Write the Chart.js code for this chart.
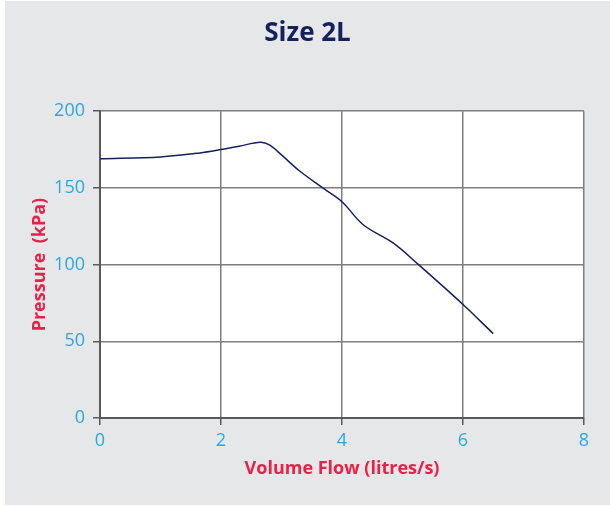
<!DOCTYPE html>
<html lang="en">
    <head>
        <meta charset="utf-8" />
        <title>Size 2L</title>
        <script src="https://cdnjs.cloudflare.com/ajax/libs/Chart.js/4.4.0/chart.umd.js"></script>
        <style>
            body {
                margin: 0;
                background: #ffffff;
            }
            #panel {
                position: absolute;
                left: 5px;
                top: 1px;
                width: 605px;
                height: 504px;
                background: #e6e7e9;
            }
        </style>
    </head>
    <body>
        <div id="panel">
            <canvas id="canvas" width="605" height="504"></canvas>
        </div>
        <script>
            // flow in litres/s, pressure in kPa
            const flow = [0, 1, 1.65, 2, 2.3, 2.65, 2.8, 3.0, 3.3, 3.7, 4.0, 4.35, 4.85, 5.25, 6.0, 6.5];
            const pressure = [169, 170.2, 172.8, 175, 177.2, 179.7, 178, 171.5, 161, 149.5, 141, 126, 114, 100.5, 74, 55];
            const xTicks = [0, 2, 4, 6, 8];
            const yTicks = [0, 50, 100, 150, 200];

            const blue = '#29a8e0';
            const red = '#ec1f48';
            const gridCol = '#7f7f7f';
            const axisCol = '#5a5a5a';

            const points = flow.map((f, i) => ({ x: f, y: pressure[i] }));

            // white plot background
            const plotBg = {
                id: 'plotBg',
                beforeDraw(chart) {
                    const a = chart.chartArea;
                    const ctx = chart.ctx;
                    ctx.save();
                    ctx.fillStyle = '#ffffff';
                    ctx.fillRect(a.left, a.top, a.right - a.left, a.bottom - a.top);
                    ctx.restore();
                }
            };

            new Chart('canvas', {
                type: 'line',
                data: {
                    datasets: [{
                        label: 'Size 2L',
                        data: points,
                        borderColor: '#14215e',
                        borderWidth: 1.5,
                        pointRadius: 0,
                        tension: 0.35,
                        fill: false
                    }]
                },
                options: {
                    responsive: false,
                    animation: false,
                    layout: { padding: 0 },
                    plugins: {
                        legend: { display: false },
                        tooltip: { enabled: false },
                        title: {
                            display: true,
                            text: 'Size 2L',
                            color: '#14215a',
                            font: { family: 'Open Sans', size: 26, weight: 'bold' },
                            padding: { top: 17, bottom: 62 }
                        }
                    },
                    scales: {
                        x: {
                            type: 'linear',
                            min: 0,
                            max: 8,
                            afterBuildTicks: s => { s.ticks = xTicks.map(v => ({ value: v })); },
                            afterFit: s => { s.height = 87; },
                            ticks: {
                                color: blue,
                                font: { family: 'Open Sans', size: 18 },
                                padding: 5
                            },
                            grid: { color: gridCol, lineWidth: 1.5, tickLength: 7, tickColor: axisCol },
                            border: { color: axisCol, width: 2 },
                            title: {
                                display: true,
                                text: 'Volume Flow (litres/s)',
                                color: red,
                                font: { family: 'Open Sans', size: 18, weight: 'bold' },
                                padding: { top: 0, bottom: 25 }
                            }
                        },
                        y: {
                            min: 0,
                            max: 200,
                            afterBuildTicks: s => { s.ticks = yTicks.map(v => ({ value: v })); },
                            afterFit: s => { s.width = 95; },
                            ticks: {
                                color: blue,
                                font: { family: 'Open Sans', size: 18 },
                                padding: 8
                            },
                            grid: { color: gridCol, lineWidth: 1.5, tickLength: 7, tickColor: axisCol },
                            border: { color: axisCol, width: 2 },
                            title: {
                                display: true,
                                text: 'Pressure  (kPa)',
                                color: red,
                                font: { family: 'Open Sans', size: 18, weight: 'bold' },
                                padding: { top: 24, bottom: 0 }
                            }
                        },
                        // empty right-hand strip so the plot ends where the reference does
                        yRight: {
                            position: 'right',
                            afterFit: s => { s.width = 26; },
                            ticks: { display: false },
                            grid: { display: false },
                            border: { display: false }
                        }
                    }
                },
                plugins: [plotBg]
            });
        </script>
    </body>
</html>
